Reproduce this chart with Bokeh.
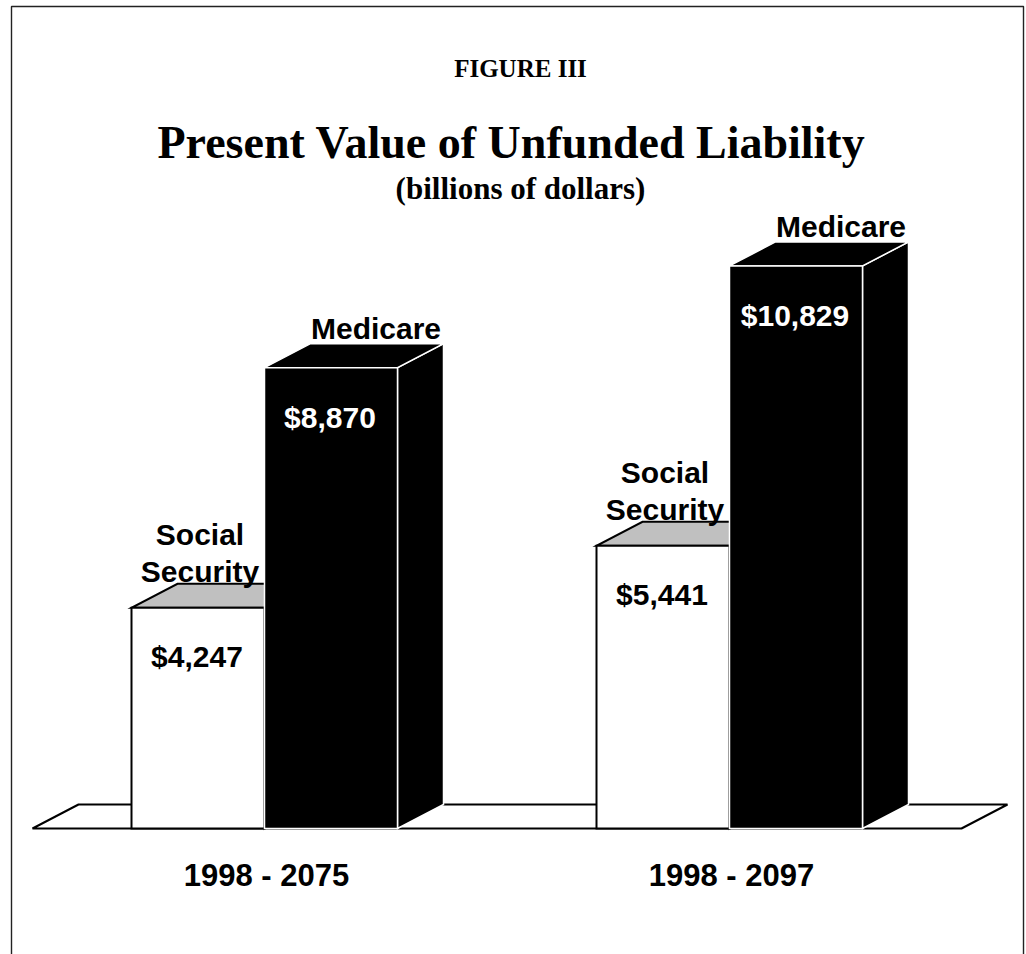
from bokeh.plotting import figure
from bokeh.models import Range1d
from bokeh.core.properties import value
from bokeh.embed import file_html
from bokeh.resources import INLINE

# ---- data ----
periods = ["1998 - 2075", "1998 - 2097"]
social_security = [4247, 5441]
medicare = [8870, 10829]
ss_label_lines = ["Social", "Security"]
medicare_label = "Medicare"
figure_label = "FIGURE III"
title_text = "Present Value of Unfunded Liability"
subtitle_text = "(billions of dollars)"

# ---- layout (pixels) ----
W, H = 1026, 954
X0 = 264          # pixel x of first group centre
GAP = 465         # pixels between group centres
BAR = 133         # bar width in pixels
FLOOR_PX = 828    # pixel y of floor front edge (value 0)
K = 0.05195       # pixels per billion
DX, DY = 46, 24   # 3-D depth offset in pixels


def px_x(px):
    return (px - X0) / GAP


def px_y(py):
    return (FLOOR_PX - py) / K


p = figure(width=W, height=H,
           x_range=Range1d(px_x(0), px_x(W)),
           y_range=Range1d(px_y(H), px_y(0)),
           output_backend="svg", toolbar_location=None,
           min_border=0, x_axis_location=None, y_axis_location=None,
           outline_line_color=None, background_fill_color="white",
           border_fill_color="white")
p.grid.visible = False

bw = BAR / GAP
ddx = DX / GAP
ddy = DY / K
ext = 232 / GAP

# page frame
p.line(x=[px_x(11), px_x(11), px_x(1023), px_x(1023)],
       y=[px_y(990), px_y(6), px_y(6), px_y(990)],
       line_color="#222222", line_width=1.4)

# floor
n = len(periods)
p.patch(x=[-ext, (n - 1) + ext, (n - 1) + ext + ddx, -ext + ddx],
        y=[0, 0, ddy, ddy], fill_color="white", line_color="black",
        line_width=2)


def faces(left, right, top):
    front = ([left, right, right, left], [0, 0, top, top])
    topf = ([left, right, right + ddx, left + ddx], [top, top, top + ddy, top + ddy])
    side = ([right, right + ddx, right + ddx, right], [0, ddy, top + ddy, top])
    return front, topf, side


ss_front, ss_top, ss_side = [], [], []
md_front, md_top, md_side = [], [], []
for i in range(n):
    f, t, s = faces(i - bw, i, social_security[i])
    ss_front.append(f); ss_top.append(t); ss_side.append(s)
    f, t, s = faces(i, i + bw, medicare[i])
    md_front.append(f); md_top.append(t); md_side.append(s)


def draw(lst, fill, line, lw):
    p.patches(xs=[a[0] for a in lst], ys=[a[1] for a in lst],
              fill_color=fill, line_color=line, line_width=lw,
              line_join="miter")


draw(ss_side, "white", "black", 2)
draw(ss_top, "#c0c0c0", "black", 2)
draw(ss_front, "white", "black", 2)
draw(md_side, "black", "white", 1.5)
draw(md_top, "black", "white", 1.5)
draw(md_front, "black", "white", 1.5)

sans = value("Liberation Sans")
serif = value("Liberation Serif")


def txt(x, y, s, size, color="black", font=sans):
    p.text(x=x, y=y, text=s, text_font=font, text_font_style="bold",
           text_font_size=size, text_color=color, text_align="center",
           text_baseline="alphabetic")


for i in range(n):
    ss = social_security[i]
    md = medicare[i]
    # series labels
    txt([i + bw / 2 + 45 / GAP], [md + 39 / K], [medicare_label], "30px")
    txt([i - bw / 2 + 2 / GAP] * 2, [ss + 73 / K, ss + 36 / K], ss_label_lines, "30px")
    # value labels
    txt([i - bw / 2 - 1 / GAP], [ss - 49 / K], [f"${ss:,}"], "30px")
    txt([i + bw / 2 - 1 / GAP], [md - 50 / K], [f"${md:,}"], "30px", color="white")

# category labels
txt([i + 2 / GAP for i in range(n)], [-47 / K] * n, periods, "31px")

# titles
txt([px_x(520)], [px_y(68)], [figure_label], "25px", font=serif)
txt([px_x(511)], [px_y(142)], [title_text], "46px", font=serif)
txt([px_x(520)], [px_y(188)], [subtitle_text], "31px", font=serif)

open("out.html", "w").write(file_html(p, INLINE))
